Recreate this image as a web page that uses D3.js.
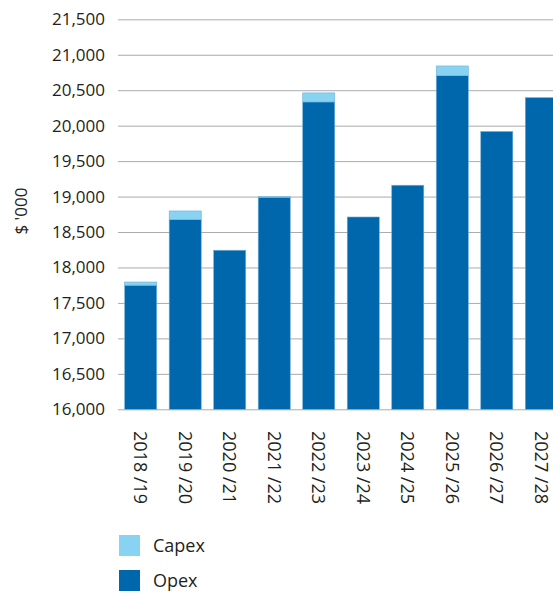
<!DOCTYPE html>
<html>
<head>
<meta charset="utf-8">
<script src="https://cdn.jsdelivr.net/npm/d3@7"></script>
<style>
  html, body { margin: 0; padding: 0; background: #fff; }
  svg { display: block; font-family: "Open Sans", sans-serif; }
</style>
</head>
<body>
<svg id="chart" width="553" height="597"></svg>
<script>
// Annual spend by financial year, in thousands of dollars
const categories = ["2018 /19", "2019 /20", "2020 /21", "2021 /22", "2022 /23",
                    "2023 /24", "2024 /25", "2025 /26", "2026 /27", "2027 /28"];
const opex  = [17750, 18675, 18243, 18990, 20335, 18712, 19160, 20705, 19918, 20395];
const capex = [45, 122, 0, 10, 127, 0, 0, 137, 0, 0];
const yTicks = [16000, 16500, 17000, 17500, 18000, 18500, 19000, 19500, 20000, 20500, 21000, 21500];
const seriesNames = ["Capex", "Opex"];

const colors = { Capex: "#87d3f1", Opex: "#0067ac" };
const font = "'Open Sans', sans-serif";
const textColor = "#231f20";

const svg = d3.select("#chart");
const plotLeft = 118, plotRight = 564, plotTop = 19.3, plotBottom = 409.3;

const x = d3.scaleBand()
  .domain(categories)
  .range([plotLeft, plotRight])
  .paddingInner(0.28)
  .paddingOuter(0.15);

const y = d3.scaleLinear()
  .domain([16000, 21500])
  .range([plotBottom, plotTop]);

// Horizontal gridlines with labels
const yAxis = d3.axisLeft(y)
  .tickValues(yTicks)
  .tickFormat(d3.format(","))
  .tickSize(-(553 - plotLeft))
  .tickPadding(13);

const gy = svg.append("g")
  .attr("transform", `translate(${plotLeft},0)`)
  .call(yAxis);
gy.select(".domain").remove();
gy.selectAll(".tick line").attr("stroke", "#ababab").attr("stroke-width", 1);
gy.selectAll(".tick text")
  .attr("fill", textColor)
  .attr("font-size", 17)
  .attr("font-family", font);

// Stacked bars: opex from the baseline, capex on top
const rows = categories.map((c, i) => ({ cat: c, opex: opex[i], capex: capex[i] }));
const stack = d3.stack().keys(["opex", "capex"])(rows);

svg.append("g").selectAll("g")
  .data(stack)
  .join("g")
  .attr("fill", d => d.key === "opex" ? colors.Opex : colors.Capex)
  .selectAll("rect")
  .data(d => d.filter(s => s[1] > s[0]))
  .join("rect")
  .attr("x", d => x(d.data.cat))
  .attr("width", x.bandwidth())
  .attr("y", d => y(Math.max(d[1], 16000)))
  .attr("height", d => y(Math.max(d[0], 16000)) - y(d[1]))
  .attr("stroke", "#6fb0dc")
  .attr("stroke-width", 0.6);

// Category labels, rotated to read downward
svg.append("g").selectAll("text")
  .data(categories)
  .join("text")
  .attr("transform", d => `translate(${x(d) + x.bandwidth() / 2},431) rotate(90)`)
  .attr("dy", "0.35em")
  .attr("text-anchor", "start")
  .attr("fill", textColor)
  .attr("font-size", 18)
  .text(d => d);

// Axis title
svg.append("text")
  .attr("transform", "translate(21,211) rotate(-90)")
  .attr("text-anchor", "middle")
  .attr("dy", "0.35em")
  .attr("fill", textColor)
  .attr("font-size", 17)
  .text("$ '000");

// Legend
const legend = svg.append("g").attr("transform", "translate(119,535)");
const li = legend.selectAll("g")
  .data(seriesNames)
  .join("g")
  .attr("transform", (d, i) => `translate(0,${i * 35})`);
li.append("rect")
  .attr("width", 21).attr("height", 21)
  .attr("fill", d => colors[d]);
li.append("text")
  .attr("x", 34).attr("y", 10.5)
  .attr("dy", "0.35em")
  .attr("fill", textColor)
  .attr("font-size", 18)
  .text(d => d);
</script>
</body>
</html>
